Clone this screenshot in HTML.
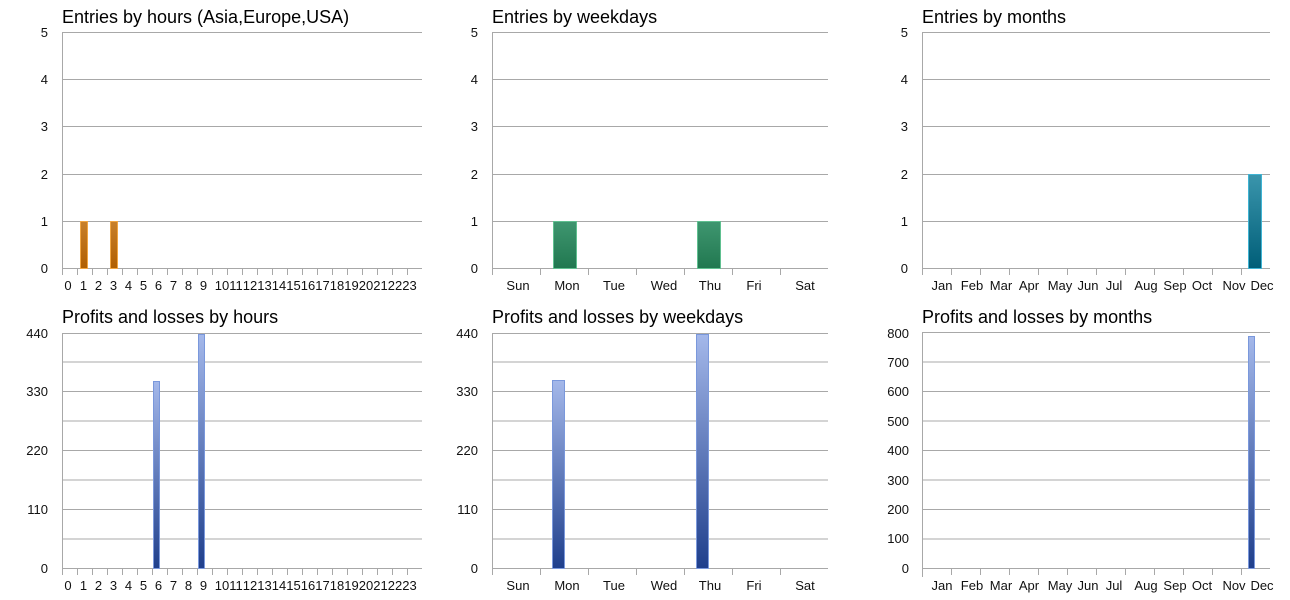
<!DOCTYPE html>
<html><head><meta charset="utf-8"><style>
html,body{margin:0;padding:0;background:#fff;width:1290px;height:600px;overflow:hidden}
svg{display:block;font-family:"Liberation Sans",Arial,sans-serif}
.t{font-size:18px;fill:#000}
.l{font-size:13px;fill:#111}
.g{stroke:#a8a8a8;stroke-width:1}
.m{stroke:#d4d4d4;stroke-width:2}
</style></head><body>
<svg width="1290" height="600" viewBox="0 0 1290 600">
<defs>
<linearGradient id="or" x1="0" y1="0" x2="0" y2="1"><stop offset="0" stop-color="#c8802a"/><stop offset="1" stop-color="#b05f00"/></linearGradient>
<linearGradient id="gr" x1="0" y1="0" x2="0" y2="1"><stop offset="0" stop-color="#3f9670"/><stop offset="1" stop-color="#217850"/></linearGradient>
<linearGradient id="te" x1="0" y1="0" x2="0" y2="1"><stop offset="0" stop-color="#3a95ac"/><stop offset="1" stop-color="#005e78"/></linearGradient>
<linearGradient id="bl" x1="0" y1="0" x2="0" y2="1"><stop offset="0" stop-color="#a4b8ea"/><stop offset="1" stop-color="#1f3f8c"/></linearGradient>
</defs>

<!-- Chart 1 -->
<text class="t" x="62" y="23">Entries by hours (Asia,Europe,USA)</text>
<g class="g">
<line x1="62" y1="32.5" x2="422" y2="32.5"/><line x1="62" y1="79.5" x2="422" y2="79.5"/><line x1="62" y1="126.5" x2="422" y2="126.5"/><line x1="62" y1="174.5" x2="422" y2="174.5"/><line x1="62" y1="221.5" x2="422" y2="221.5"/><line x1="62" y1="268.5" x2="422" y2="268.5"/>
<line x1="62.5" y1="32" x2="62.5" y2="275"/>
<line x1="77.5" y1="268" x2="77.5" y2="275"/><line x1="92.5" y1="268" x2="92.5" y2="275"/><line x1="107.5" y1="268" x2="107.5" y2="275"/><line x1="122.5" y1="268" x2="122.5" y2="275"/><line x1="137.5" y1="268" x2="137.5" y2="275"/><line x1="152.5" y1="268" x2="152.5" y2="275"/><line x1="167.5" y1="268" x2="167.5" y2="275"/><line x1="182.5" y1="268" x2="182.5" y2="275"/><line x1="197.5" y1="268" x2="197.5" y2="275"/><line x1="212.5" y1="268" x2="212.5" y2="275"/><line x1="227.5" y1="268" x2="227.5" y2="275"/><line x1="242.5" y1="268" x2="242.5" y2="275"/><line x1="257.5" y1="268" x2="257.5" y2="275"/><line x1="272.5" y1="268" x2="272.5" y2="275"/><line x1="287.5" y1="268" x2="287.5" y2="275"/><line x1="302.5" y1="268" x2="302.5" y2="275"/><line x1="317.5" y1="268" x2="317.5" y2="275"/><line x1="332.5" y1="268" x2="332.5" y2="275"/><line x1="347.5" y1="268" x2="347.5" y2="275"/><line x1="362.5" y1="268" x2="362.5" y2="275"/><line x1="377.5" y1="268" x2="377.5" y2="275"/><line x1="392.5" y1="268" x2="392.5" y2="275"/><line x1="407.5" y1="268" x2="407.5" y2="275"/>
</g>
<g class="l" text-anchor="end"><text x="48" y="37">5</text><text x="48" y="84">4</text><text x="48" y="131">3</text><text x="48" y="179">2</text><text x="48" y="226">1</text><text x="48" y="273">0</text></g>
<rect x="80.5" y="221.5" width="7" height="47" fill="url(#or)" stroke="#f2a640"/>
<rect x="110.5" y="221.5" width="7" height="47" fill="url(#or)" stroke="#f2a640"/>
<g class="l" text-anchor="middle"><text x="68" y="290">0</text><text x="83.5" y="290">1</text><text x="98.5" y="290">2</text><text x="113.5" y="290">3</text><text x="128.5" y="290">4</text><text x="143.5" y="290">5</text><text x="158.5" y="290">6</text><text x="173.5" y="290">7</text><text x="188.5" y="290">8</text><text x="203.5" y="290">9</text><text x="222" y="290">10</text><text x="236" y="290">11</text><text x="250" y="290">12</text><text x="264.5" y="290">13</text><text x="279" y="290">14</text><text x="293.5" y="290">15</text><text x="308" y="290">16</text><text x="322.5" y="290">17</text><text x="337" y="290">18</text><text x="351.5" y="290">19</text><text x="366" y="290">20</text><text x="380.5" y="290">21</text><text x="395" y="290">22</text><text x="409.5" y="290">23</text></g>

<!-- Chart 2 -->
<text class="t" x="492" y="23">Entries by weekdays</text>
<g class="g">
<line x1="492" y1="32.5" x2="828" y2="32.5"/><line x1="492" y1="79.5" x2="828" y2="79.5"/><line x1="492" y1="126.5" x2="828" y2="126.5"/><line x1="492" y1="174.5" x2="828" y2="174.5"/><line x1="492" y1="221.5" x2="828" y2="221.5"/><line x1="492" y1="268.5" x2="828" y2="268.5"/>
<line x1="492.5" y1="32" x2="492.5" y2="275"/>
<line x1="540.5" y1="268" x2="540.5" y2="275"/><line x1="588.5" y1="268" x2="588.5" y2="275"/><line x1="636.5" y1="268" x2="636.5" y2="275"/><line x1="684.5" y1="268" x2="684.5" y2="275"/><line x1="732.5" y1="268" x2="732.5" y2="275"/><line x1="780.5" y1="268" x2="780.5" y2="275"/>
</g>
<g class="l" text-anchor="end"><text x="478" y="37">5</text><text x="478" y="84">4</text><text x="478" y="131">3</text><text x="478" y="179">2</text><text x="478" y="226">1</text><text x="478" y="273">0</text></g>
<rect x="553.5" y="221.5" width="23" height="47" fill="url(#gr)" stroke="#60c090"/>
<rect x="697.5" y="221.5" width="23" height="47" fill="url(#gr)" stroke="#60c090"/>
<g class="l" text-anchor="middle"><text x="518" y="290">Sun</text><text x="567" y="290">Mon</text><text x="614" y="290">Tue</text><text x="664" y="290">Wed</text><text x="710" y="290">Thu</text><text x="754" y="290">Fri</text><text x="805" y="290">Sat</text></g>

<!-- Chart 3 -->
<text class="t" x="922" y="23">Entries by months</text>
<g class="g">
<line x1="922" y1="32.5" x2="1270" y2="32.5"/><line x1="922" y1="79.5" x2="1270" y2="79.5"/><line x1="922" y1="126.5" x2="1270" y2="126.5"/><line x1="922" y1="174.5" x2="1270" y2="174.5"/><line x1="922" y1="221.5" x2="1270" y2="221.5"/><line x1="922" y1="268.5" x2="1270" y2="268.5"/>
<line x1="922.5" y1="32" x2="922.5" y2="275"/>
<line x1="951.5" y1="268" x2="951.5" y2="275"/><line x1="980.5" y1="268" x2="980.5" y2="275"/><line x1="1009.5" y1="268" x2="1009.5" y2="275"/><line x1="1038.5" y1="268" x2="1038.5" y2="275"/><line x1="1067.5" y1="268" x2="1067.5" y2="275"/><line x1="1096.5" y1="268" x2="1096.5" y2="275"/><line x1="1125.5" y1="268" x2="1125.5" y2="275"/><line x1="1154.5" y1="268" x2="1154.5" y2="275"/><line x1="1183.5" y1="268" x2="1183.5" y2="275"/><line x1="1212.5" y1="268" x2="1212.5" y2="275"/><line x1="1241.5" y1="268" x2="1241.5" y2="275"/>
</g>
<g class="l" text-anchor="end"><text x="908" y="37">5</text><text x="908" y="84">4</text><text x="908" y="131">3</text><text x="908" y="179">2</text><text x="908" y="226">1</text><text x="908" y="273">0</text></g>
<rect x="1248.5" y="174.5" width="13" height="94" fill="url(#te)" stroke="#40b4d4"/>
<g class="l" text-anchor="middle"><text x="942" y="290">Jan</text><text x="972" y="290">Feb</text><text x="1001" y="290">Mar</text><text x="1029" y="290">Apr</text><text x="1060" y="290">May</text><text x="1088" y="290">Jun</text><text x="1114" y="290">Jul</text><text x="1146" y="290">Aug</text><text x="1175" y="290">Sep</text><text x="1202" y="290">Oct</text><text x="1234" y="290">Nov</text><text x="1262" y="290">Dec</text></g>

<!-- Chart 4 -->
<text class="t" x="62" y="323">Profits and losses by hours</text>
<g class="m"><line x1="62" y1="362" x2="422" y2="362"/><line x1="62" y1="421" x2="422" y2="421"/><line x1="62" y1="480" x2="422" y2="480"/><line x1="62" y1="539" x2="422" y2="539"/></g>
<g class="g">
<line x1="62" y1="333.5" x2="422" y2="333.5"/><line x1="62" y1="391.5" x2="422" y2="391.5"/><line x1="62" y1="450.5" x2="422" y2="450.5"/><line x1="62" y1="509.5" x2="422" y2="509.5"/><line x1="62" y1="568.5" x2="422" y2="568.5"/>
<line x1="62.5" y1="333" x2="62.5" y2="575"/>
<line x1="77.5" y1="568" x2="77.5" y2="575"/><line x1="92.5" y1="568" x2="92.5" y2="575"/><line x1="107.5" y1="568" x2="107.5" y2="575"/><line x1="122.5" y1="568" x2="122.5" y2="575"/><line x1="137.5" y1="568" x2="137.5" y2="575"/><line x1="152.5" y1="568" x2="152.5" y2="575"/><line x1="167.5" y1="568" x2="167.5" y2="575"/><line x1="182.5" y1="568" x2="182.5" y2="575"/><line x1="197.5" y1="568" x2="197.5" y2="575"/><line x1="212.5" y1="568" x2="212.5" y2="575"/><line x1="227.5" y1="568" x2="227.5" y2="575"/><line x1="242.5" y1="568" x2="242.5" y2="575"/><line x1="257.5" y1="568" x2="257.5" y2="575"/><line x1="272.5" y1="568" x2="272.5" y2="575"/><line x1="287.5" y1="568" x2="287.5" y2="575"/><line x1="302.5" y1="568" x2="302.5" y2="575"/><line x1="317.5" y1="568" x2="317.5" y2="575"/><line x1="332.5" y1="568" x2="332.5" y2="575"/><line x1="347.5" y1="568" x2="347.5" y2="575"/><line x1="362.5" y1="568" x2="362.5" y2="575"/><line x1="377.5" y1="568" x2="377.5" y2="575"/><line x1="392.5" y1="568" x2="392.5" y2="575"/><line x1="407.5" y1="568" x2="407.5" y2="575"/>
</g>
<g class="l" text-anchor="end"><text x="48" y="338">440</text><text x="48" y="396">330</text><text x="48" y="455">220</text><text x="48" y="514">110</text><text x="48" y="573">0</text></g>
<rect x="153.5" y="381.5" width="6" height="187" fill="url(#bl)" stroke="#7a98dc"/>
<rect x="198.5" y="334.5" width="6" height="234" fill="url(#bl)" stroke="#7a98dc"/>
<g class="l" text-anchor="middle"><text x="68" y="590">0</text><text x="83.5" y="590">1</text><text x="98.5" y="590">2</text><text x="113.5" y="590">3</text><text x="128.5" y="590">4</text><text x="143.5" y="590">5</text><text x="158.5" y="590">6</text><text x="173.5" y="590">7</text><text x="188.5" y="590">8</text><text x="203.5" y="590">9</text><text x="222" y="590">10</text><text x="236" y="590">11</text><text x="250" y="590">12</text><text x="264.5" y="590">13</text><text x="279" y="590">14</text><text x="293.5" y="590">15</text><text x="308" y="590">16</text><text x="322.5" y="590">17</text><text x="337" y="590">18</text><text x="351.5" y="590">19</text><text x="366" y="590">20</text><text x="380.5" y="590">21</text><text x="395" y="590">22</text><text x="409.5" y="590">23</text></g>

<!-- Chart 5 -->
<text class="t" x="492" y="323">Profits and losses by weekdays</text>
<g class="m"><line x1="492" y1="362" x2="828" y2="362"/><line x1="492" y1="421" x2="828" y2="421"/><line x1="492" y1="480" x2="828" y2="480"/><line x1="492" y1="539" x2="828" y2="539"/></g>
<g class="g">
<line x1="492" y1="333.5" x2="828" y2="333.5"/><line x1="492" y1="391.5" x2="828" y2="391.5"/><line x1="492" y1="450.5" x2="828" y2="450.5"/><line x1="492" y1="509.5" x2="828" y2="509.5"/><line x1="492" y1="568.5" x2="828" y2="568.5"/>
<line x1="492.5" y1="333" x2="492.5" y2="575"/>
<line x1="540.5" y1="568" x2="540.5" y2="575"/><line x1="588.5" y1="568" x2="588.5" y2="575"/><line x1="636.5" y1="568" x2="636.5" y2="575"/><line x1="684.5" y1="568" x2="684.5" y2="575"/><line x1="732.5" y1="568" x2="732.5" y2="575"/><line x1="780.5" y1="568" x2="780.5" y2="575"/>
</g>
<g class="l" text-anchor="end"><text x="478" y="338">440</text><text x="478" y="396">330</text><text x="478" y="455">220</text><text x="478" y="514">110</text><text x="478" y="573">0</text></g>
<rect x="552.5" y="380.5" width="12" height="188" fill="url(#bl)" stroke="#7a98dc"/>
<rect x="696.5" y="334.5" width="12" height="234" fill="url(#bl)" stroke="#7a98dc"/>
<g class="l" text-anchor="middle"><text x="518" y="590">Sun</text><text x="567" y="590">Mon</text><text x="614" y="590">Tue</text><text x="664" y="590">Wed</text><text x="710" y="590">Thu</text><text x="754" y="590">Fri</text><text x="805" y="590">Sat</text></g>

<!-- Chart 6 -->
<text class="t" x="922" y="323">Profits and losses by months</text>
<g class="m"><line x1="922" y1="362" x2="1270" y2="362"/><line x1="922" y1="421" x2="1270" y2="421"/><line x1="922" y1="480" x2="1270" y2="480"/><line x1="922" y1="539" x2="1270" y2="539"/></g>
<g class="g">
<line x1="922" y1="332.5" x2="1270" y2="332.5"/><line x1="922" y1="391.5" x2="1270" y2="391.5"/><line x1="922" y1="450.5" x2="1270" y2="450.5"/><line x1="922" y1="509.5" x2="1270" y2="509.5"/><line x1="922" y1="568.5" x2="1270" y2="568.5"/>
<line x1="922.5" y1="333" x2="922.5" y2="577"/>
<line x1="951.5" y1="568" x2="951.5" y2="575"/><line x1="980.5" y1="568" x2="980.5" y2="575"/><line x1="1009.5" y1="568" x2="1009.5" y2="575"/><line x1="1038.5" y1="568" x2="1038.5" y2="575"/><line x1="1067.5" y1="568" x2="1067.5" y2="575"/><line x1="1096.5" y1="568" x2="1096.5" y2="575"/><line x1="1125.5" y1="568" x2="1125.5" y2="575"/><line x1="1154.5" y1="568" x2="1154.5" y2="575"/><line x1="1183.5" y1="568" x2="1183.5" y2="575"/><line x1="1212.5" y1="568" x2="1212.5" y2="575"/><line x1="1241.5" y1="568" x2="1241.5" y2="575"/>
</g>
<g class="l" text-anchor="end"><text x="909" y="338">800</text><text x="909" y="367">700</text><text x="909" y="396">600</text><text x="909" y="426">500</text><text x="909" y="455">400</text><text x="909" y="485">300</text><text x="909" y="514">200</text><text x="909" y="543">100</text><text x="909" y="573">0</text></g>
<rect x="1248.5" y="336.5" width="6" height="232" fill="url(#bl)" stroke="#7a98dc"/>
<g class="l" text-anchor="middle"><text x="942" y="590">Jan</text><text x="972" y="590">Feb</text><text x="1001" y="590">Mar</text><text x="1029" y="590">Apr</text><text x="1060" y="590">May</text><text x="1088" y="590">Jun</text><text x="1114" y="590">Jul</text><text x="1146" y="590">Aug</text><text x="1175" y="590">Sep</text><text x="1202" y="590">Oct</text><text x="1234" y="590">Nov</text><text x="1262" y="590">Dec</text></g>
</svg>
</body></html>
